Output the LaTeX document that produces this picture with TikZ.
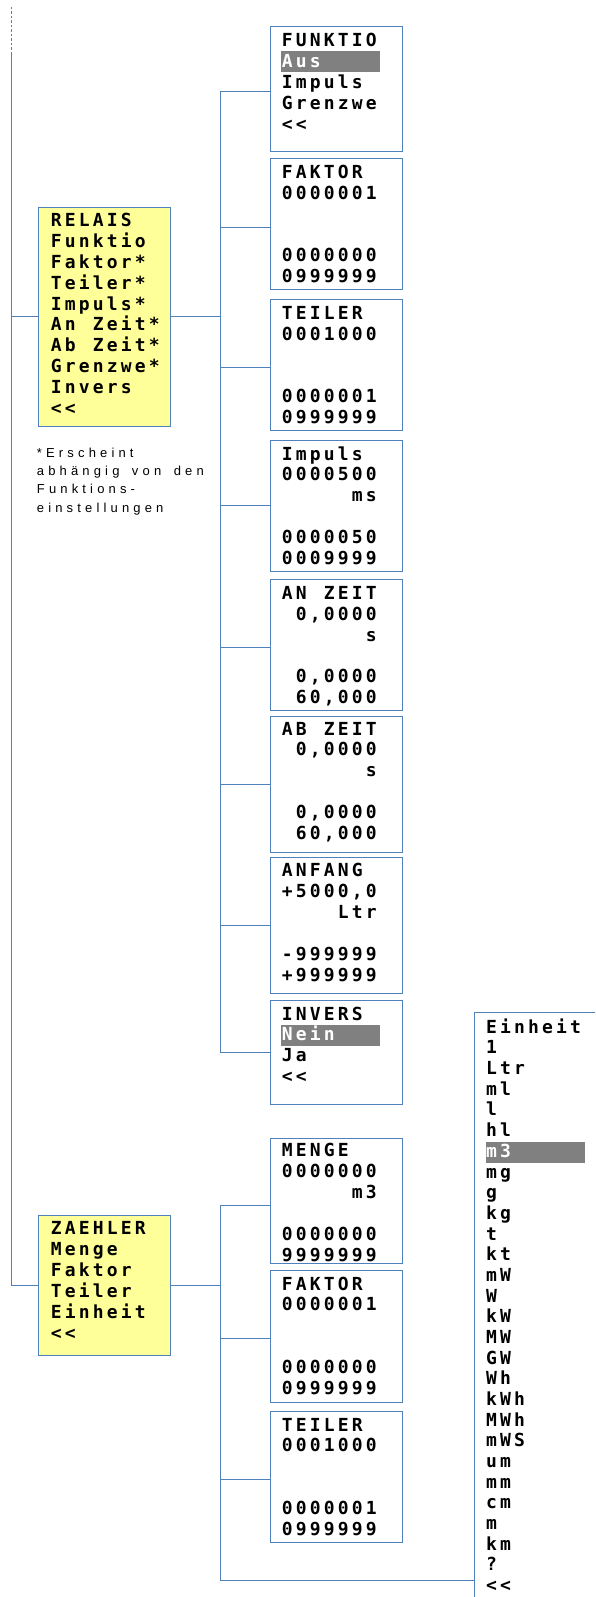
\documentclass[tikz,border=0pt]{standalone}
\usepackage{fontspec}
\newfontfamily\monofam{DejaVu Sans Mono}[LetterSpace=17.5]
\newfontfamily\notefam{Liberation Sans}[LetterSpace=32]
\definecolor{bblue}{RGB}{79,129,189}
\definecolor{byel}{RGB}{255,255,153}
\definecolor{hgray}{RGB}{128,128,128}
\newlength\sevw
\newcommand\bxfont{\monofam\bfseries\fontsize{18}{20.9}\selectfont\spaceskip=17.1pt\relax\settowidth\sevw{0000000}}
\newcommand\bxfontb{\monofam\bfseries\fontsize{18}{20.8}\selectfont\spaceskip=17.1pt\relax}
\newcommand\bxfontc{\monofam\bfseries\fontsize{18}{21.1}\selectfont\spaceskip=17.1pt\relax}
\newcommand\bxfonte{\monofam\bfseries\fontsize{18}{20.67}\selectfont\spaceskip=17.1pt\relax}
\newcommand\notefont{\notefam\fontsize{13}{18.3}\selectfont\spaceskip=12.5pt\relax}
\newcommand\R[1]{\makebox[\sevw][r]{#1}}
\newcommand\LL{<\kern3.15pt<}
\newcommand\W[1]{\textcolor{white}{#1}}
\newcommand\TB[1]{\begin{tabular}[t]{@{}l@{}}#1\end{tabular}}
\tikzset{
  bx/.style={draw=bblue, line width=0.8pt, inner sep=0pt, anchor=north west, minimum width=131.7pt},
  menubox/.style={bx, fill=byel, minimum width=131.7pt},
  mtxt/.style={anchor=base west, inner sep=0pt, font=\bxfont},
  conn/.style={draw=bblue, line width=0.8pt},
  mainconn/.style={draw=bblue, line width=1.2pt},
  hbar/.style={fill=hgray, draw=none}
}
\begin{document}
\begin{tikzpicture}[x=1pt,y=-1pt]
\useasboundingbox (0,0) rectangle (595,1597);
\clip (0,0) rectangle (595,1597);
\fill[white] (0,0) rectangle (595,1597);

% main menu boxes
\node[menubox, minimum height=219.3pt] (relais) at (38.3,206.7) {};
\node[menubox, minimum height=140pt] (zaehler) at (38.3,1215) {};

% RELAIS sub boxes
\node[bx, minimum height=125.3pt] (f1) at (270,25.7) {};
\node[bx, minimum height=131pt] (f2) at (270,158.3) {};
\node[bx, minimum height=131pt] (f3) at (270,299) {};
\node[bx, minimum height=130.7pt] (f4) at (270,440) {};
\node[bx, minimum height=130.7pt] (f5) at (270,579.3) {};
\node[bx, minimum height=136.6pt] (f6) at (270,715.7) {};
\node[bx, minimum height=136pt] (f7) at (270,857.3) {};
\node[bx, minimum height=104pt] (f8) at (270,1000) {};
% ZAEHLER sub boxes
\node[bx, minimum height=125.6pt] (z1) at (270,1137.7) {};
\node[bx, minimum height=131.4pt] (z2) at (270,1270.3) {};
\node[bx, minimum height=131.3pt] (z3) at (270,1411) {};
\node[bx, minimum width=124pt, minimum height=590pt] (ein) at (474.3,1012.3) {};

% highlight bars
\fill[hgray] (281,51) rectangle (380,71.7);
\fill[hgray] (281,1025) rectangle (380,1045.7);
\fill[hgray] (486,1142.3) rectangle (585,1162.7);

% connectors
\coordinate (ta) at (220.7,0);
\coordinate (otop) at (11.7,7);
\coordinate (omid) at (11.7,51.7);
\coordinate (ebot) at (474.3,1580);
\draw[draw=bblue, line width=0.6pt, dash pattern=on 2.5pt off 2pt] (otop) -- (omid);
\draw[conn] (omid) -- (zaehler.west -| omid) -- (zaehler.west);
\draw[conn] (relais.west -| omid) -- (relais.west);
\draw[mainconn] (relais.east) -- (relais.east -| ta);
\draw[mainconn] (zaehler.east) -- (zaehler.east -| ta);
\draw[conn] ([yshift=-2.6pt]f1.west) -- ([yshift=-2.6pt]f1.west -| ta) -- (f8.west -| ta) -- (f8.west);
\draw[conn] ([yshift=-2.8pt]f2.west) -- ([yshift=-2.8pt]f2.west -| ta);
\draw[conn] ([yshift=-2.8pt]f3.west) -- ([yshift=-2.8pt]f3.west -| ta);
\draw[conn] (f4.west) -- (f4.west -| ta);
\draw[conn] ([yshift=-2pt]f5.west) -- ([yshift=-2pt]f5.west -| ta);
\draw[conn] (f6.west) -- (f6.west -| ta);
\draw[conn] (f7.west) -- (f7.west -| ta);
\draw[conn] ([yshift=-4.5pt]z1.west) -- ([yshift=-4.5pt]z1.west -| ta) -- (ta |- ebot) -- (ebot);
\draw[conn] ([yshift=-2.3pt]z2.west) -- ([yshift=-2.3pt]z2.west -| ta);
\draw[conn] ([yshift=-2.3pt]z3.west) -- ([yshift=-2.3pt]z3.west -| ta);

% texts
\node[mtxt, font=\bxfontb] (trelais) at (50.7,226.7) {\TB{RELAIS\\Funktio\\Faktor*\\Teiler*\\Impuls*\\An Zeit*\\Ab Zeit*\\Grenzwe*\\Invers\\\LL}};
\node[mtxt, font=\bxfontc] (tzaehler) at (50.7,1234) {\TB{ZAEHLER\\Menge\\Faktor\\Teiler\\Einheit\\\LL}};
\node[anchor=base west, inner sep=0pt, font=\notefont] (note) at (36.7,457.3) {\TB{*Erscheint\\abhängig von den\\Funktions-\\einstellungen}};

\node[mtxt] (t1) at (281.7,46.7) {\TB{FUNKTIO\\\W{Aus}\\Impuls\\Grenzwe\\\LL}};
\node[mtxt] (t2) at (281.7,178.3) {\TB{FAKTOR\\0000001\\ \\ \\0000000\\0999999}};
\node[mtxt] (t3) at (281.7,319.3) {\TB{TEILER\\0001000\\ \\ \\0000001\\0999999}};
\node[mtxt] (t4) at (281.7,460) {\TB{Impuls\\0000500\\\R{ms}\\ \\0000050\\0009999}};
\node[mtxt] (t5) at (281.7,599.3) {\TB{AN ZEIT\\\R{0,0000}\\\R{s}\\ \\\R{0,0000}\\\R{60,000}}};
\node[mtxt] (t6) at (281.7,735) {\TB{AB ZEIT\\\R{0,0000}\\\R{s}\\ \\\R{0,0000}\\\R{60,000}}};
\node[mtxt] (t7) at (281.7,876.7) {\TB{ANFANG\\+5000,0\\\R{Ltr}\\ \\-999999\\+999999}};
\node[mtxt] (t8) at (281.7,1020) {\TB{INVERS\\\W{Nein}\\Ja\\\LL}};
\node[mtxt] (t9) at (281.7,1156.7) {\TB{MENGE\\0000000\\\R{m3}\\ \\0000000\\9999999}};
\node[mtxt] (t10) at (281.7,1290) {\TB{FAKTOR\\0000001\\ \\ \\0000000\\0999999}};
\node[mtxt] (t11) at (281.7,1431) {\TB{TEILER\\0001000\\ \\ \\0000001\\0999999}};
\node[mtxt, font=\bxfonte] (t12) at (486,1033.3) {\TB{Einheit\\1\\Ltr\\ml\\l\\hl\\\W{m3}\\mg\\g\\kg\\t\\kt\\mW\\W\\kW\\MW\\GW\\Wh\\kWh\\MWh\\mWS\\um\\mm\\cm\\m\\km\\?\\\LL}};
\end{tikzpicture}
\end{document}
